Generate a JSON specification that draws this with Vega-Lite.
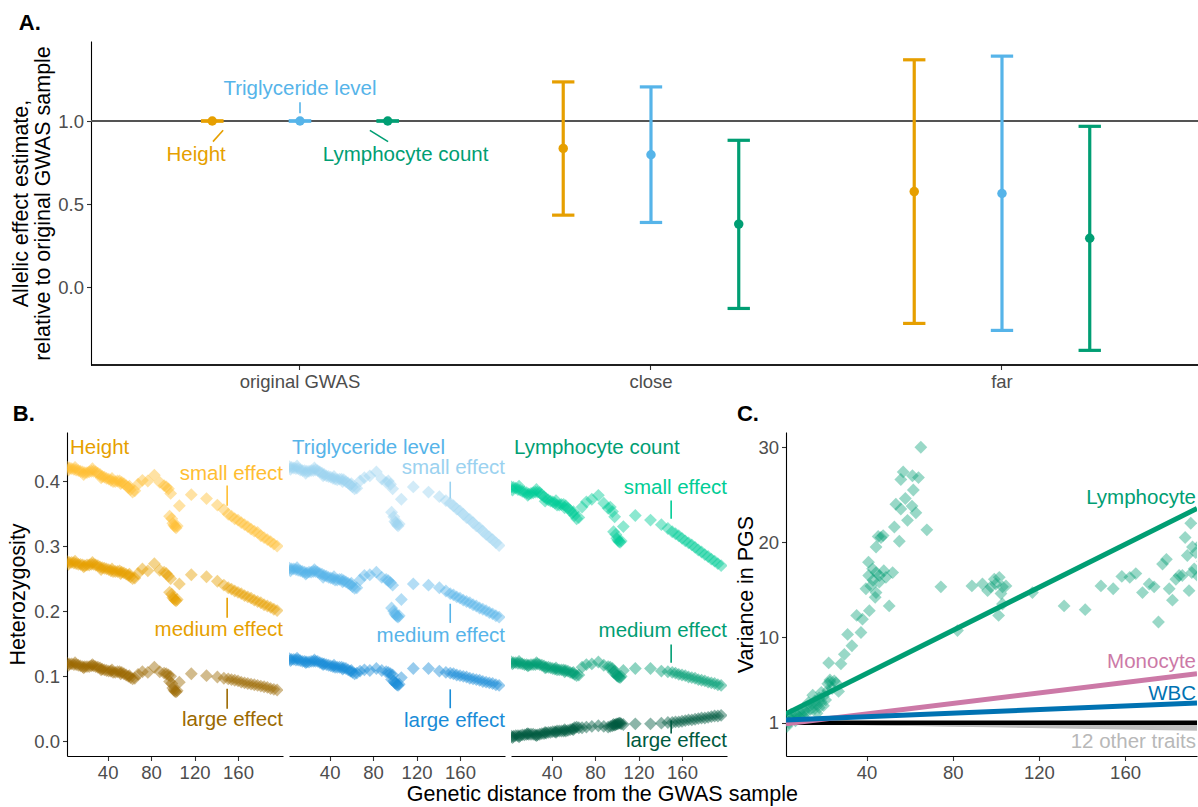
{
  "$schema": "https://vega.github.io/schema/vega-lite/v6.json",
  "padding": {"left": 7, "top": 12, "right": 0, "bottom": 0},
  "config": {
    "font": "Liberation Sans",
    "view": {"stroke": null},
    "axis": {
      "grid": false,
      "domainColor": "#000000",
      "domainWidth": 1.1,
      "tickColor": "#333333",
      "tickWidth": 1.1,
      "tickSize": 4.5,
      "labelPadding": 3,
      "labelFont": "Liberation Sans",
      "labelFontSize": 18.5,
      "labelColor": "#4D4D4D",
      "titleFont": "Liberation Sans",
      "titleFontSize": 21.5,
      "titleFontWeight": "normal",
      "titleColor": "#000000"
    },
    "title": {"font": "Liberation Sans", "fontSize": 22, "fontWeight": "bold", "anchor": "start", "frame": "bounds", "color": "#000000", "offset": 6, "baseline": "alphabetic"}
  },
  "datasets": {
    "effects": [
      {"sample": "original GWAS", "trait": "Height", "est": 1, "lo": 1, "hi": 1},
      {"sample": "original GWAS", "trait": "Triglyceride level", "est": 1, "lo": 1, "hi": 1},
      {"sample": "original GWAS", "trait": "Lymphocyte count", "est": 1, "lo": 1, "hi": 1},
      {"sample": "close", "trait": "Height", "est": 0.835, "lo": 0.434, "hi": 1.235},
      {"sample": "close", "trait": "Triglyceride level", "est": 0.797, "lo": 0.39, "hi": 1.205},
      {"sample": "close", "trait": "Lymphocyte count", "est": 0.38, "lo": -0.127, "hi": 0.884},
      {"sample": "far", "trait": "Height", "est": 0.576, "lo": -0.217, "hi": 1.368},
      {"sample": "far", "trait": "Triglyceride level", "est": 0.564, "lo": -0.259, "hi": 1.39},
      {"sample": "far", "trait": "Lymphocyte count", "est": 0.295, "lo": -0.379, "hi": 0.968}
    ],
    "notesA": [
      {"label": "Triglyceride level", "trait": "Triglyceride level", "lx": 1.0, "ly": 1.192, "x1": 1.0, "y1": 1.112, "x2": 1.0, "y2": 1.046},
      {"label": "Height", "trait": "Height", "lx": 0.704, "ly": 0.796, "x1": 0.752, "y1": 0.876, "x2": 0.781, "y2": 0.944},
      {"label": "Lymphocyte count", "trait": "Lymphocyte count", "lx": 1.301, "ly": 0.796, "x1": 1.199, "y1": 0.944, "x2": 1.251, "y2": 0.876}
    ],
    "traitsB": [
      {"trait": "Height"},
      {"trait": "Triglyceride level"},
      {"trait": "Lymphocyte count"}
    ],
    "notesB": [
      {"trait": "Height", "series": "Hs", "label": "small effect", "ly": 0.4104, "s1": 0.393, "s2": 0.362},
      {"trait": "Height", "series": "Hm", "label": "medium effect", "ly": 0.171, "s1": 0.2207, "s2": 0.19},
      {"trait": "Height", "series": "Hl", "label": "large effect", "ly": 0.0326, "s1": 0.081, "s2": 0.05},
      {"trait": "Triglyceride level", "series": "Ts", "label": "small effect", "ly": 0.4197, "s1": 0.399, "s2": 0.373},
      {"trait": "Triglyceride level", "series": "Tm", "label": "medium effect", "ly": 0.1616, "s1": 0.2115, "s2": 0.182},
      {"trait": "Triglyceride level", "series": "Tl", "label": "large effect", "ly": 0.031, "s1": 0.08, "s2": 0.051},
      {"trait": "Lymphocyte count", "series": "Ls", "label": "small effect", "ly": 0.3897, "s1": 0.37, "s2": 0.342},
      {"trait": "Lymphocyte count", "series": "Lm", "label": "medium effect", "ly": 0.169, "s1": 0.149, "s2": 0.121},
      {"trait": "Lymphocyte count", "series": "Ll", "label": "large effect", "ly": 0.0003, "s1": 0.032, "s2": 0.012}
    ],
    "pops": [
      {"d": 3, "Hs": 0.421, "Hm": 0.276, "Hl": 0.120, "Ts": 0.422, "Tm": 0.266, "Tl": 0.127, "Ls": 0.391, "Lm": 0.122, "Ll": 0.008},
      {"d": 4, "Hs": 0.417, "Hm": 0.272, "Hl": 0.117, "Ts": 0.418, "Tm": 0.262, "Tl": 0.124, "Ls": 0.386, "Lm": 0.119, "Ll": 0.006},
      {"d": 5, "Hs": 0.420, "Hm": 0.275, "Hl": 0.119, "Ts": 0.421, "Tm": 0.265, "Tl": 0.126, "Ls": 0.390, "Lm": 0.121, "Ll": 0.008},
      {"d": 7, "Hs": 0.419, "Hm": 0.275, "Hl": 0.119, "Ts": 0.420, "Tm": 0.265, "Tl": 0.126, "Ls": 0.389, "Lm": 0.121, "Ll": 0.009},
      {"d": 9, "Hs": 0.418, "Hm": 0.274, "Hl": 0.118, "Ts": 0.419, "Tm": 0.264, "Tl": 0.125, "Ls": 0.387, "Lm": 0.120, "Ll": 0.009},
      {"d": 10, "Hs": 0.421, "Hm": 0.277, "Hl": 0.121, "Ts": 0.423, "Tm": 0.267, "Tl": 0.128, "Ls": 0.392, "Lm": 0.123, "Ll": 0.007},
      {"d": 11, "Hs": 0.417, "Hm": 0.273, "Hl": 0.118, "Ts": 0.419, "Tm": 0.263, "Tl": 0.125, "Ls": 0.386, "Lm": 0.120, "Ll": 0.009},
      {"d": 13, "Hs": 0.416, "Hm": 0.272, "Hl": 0.117, "Ts": 0.417, "Tm": 0.262, "Tl": 0.124, "Ls": 0.384, "Lm": 0.119, "Ll": 0.010},
      {"d": 15, "Hs": 0.415, "Hm": 0.272, "Hl": 0.116, "Ts": 0.416, "Tm": 0.261, "Tl": 0.123, "Ls": 0.383, "Lm": 0.118, "Ll": 0.010},
      {"d": 17, "Hs": 0.414, "Hm": 0.271, "Hl": 0.115, "Ts": 0.416, "Tm": 0.260, "Tl": 0.123, "Ls": 0.382, "Lm": 0.118, "Ll": 0.011},
      {"d": 18, "Hs": 0.410, "Hm": 0.268, "Hl": 0.113, "Ts": 0.412, "Tm": 0.257, "Tl": 0.121, "Ls": 0.378, "Lm": 0.116, "Ll": 0.012},
      {"d": 19, "Hs": 0.413, "Hm": 0.270, "Hl": 0.115, "Ts": 0.415, "Tm": 0.259, "Tl": 0.122, "Ls": 0.380, "Lm": 0.117, "Ll": 0.011},
      {"d": 21, "Hs": 0.413, "Hm": 0.271, "Hl": 0.115, "Ts": 0.415, "Tm": 0.260, "Tl": 0.122, "Ls": 0.381, "Lm": 0.118, "Ll": 0.011},
      {"d": 23, "Hs": 0.414, "Hm": 0.271, "Hl": 0.115, "Ts": 0.416, "Tm": 0.260, "Tl": 0.123, "Ls": 0.382, "Lm": 0.118, "Ll": 0.011},
      {"d": 25, "Hs": 0.415, "Hm": 0.272, "Hl": 0.116, "Ts": 0.416, "Tm": 0.261, "Tl": 0.123, "Ls": 0.383, "Lm": 0.118, "Ll": 0.010},
      {"d": 26, "Hs": 0.419, "Hm": 0.275, "Hl": 0.118, "Ts": 0.420, "Tm": 0.264, "Tl": 0.125, "Ls": 0.387, "Lm": 0.121, "Ll": 0.009},
      {"d": 27, "Hs": 0.415, "Hm": 0.272, "Hl": 0.116, "Ts": 0.417, "Tm": 0.261, "Tl": 0.123, "Ls": 0.383, "Lm": 0.119, "Ll": 0.010},
      {"d": 29, "Hs": 0.414, "Hm": 0.271, "Hl": 0.115, "Ts": 0.416, "Tm": 0.260, "Tl": 0.123, "Ls": 0.382, "Lm": 0.118, "Ll": 0.011},
      {"d": 31, "Hs": 0.412, "Hm": 0.270, "Hl": 0.114, "Ts": 0.414, "Tm": 0.258, "Tl": 0.121, "Ls": 0.379, "Lm": 0.117, "Ll": 0.012},
      {"d": 33, "Hs": 0.410, "Hm": 0.268, "Hl": 0.113, "Ts": 0.412, "Tm": 0.257, "Tl": 0.120, "Ls": 0.376, "Lm": 0.116, "Ll": 0.012},
      {"d": 34, "Hs": 0.405, "Hm": 0.264, "Hl": 0.110, "Ts": 0.408, "Tm": 0.252, "Tl": 0.118, "Ls": 0.369, "Lm": 0.113, "Ll": 0.014},
      {"d": 35, "Hs": 0.407, "Hm": 0.267, "Hl": 0.111, "Ts": 0.410, "Tm": 0.255, "Tl": 0.119, "Ls": 0.373, "Lm": 0.114, "Ll": 0.013},
      {"d": 37, "Hs": 0.406, "Hm": 0.266, "Hl": 0.110, "Ts": 0.408, "Tm": 0.254, "Tl": 0.118, "Ls": 0.371, "Lm": 0.114, "Ll": 0.014},
      {"d": 39, "Hs": 0.404, "Hm": 0.265, "Hl": 0.109, "Ts": 0.407, "Tm": 0.252, "Tl": 0.117, "Ls": 0.369, "Lm": 0.113, "Ll": 0.014},
      {"d": 41, "Hs": 0.403, "Hm": 0.264, "Hl": 0.108, "Ts": 0.406, "Tm": 0.251, "Tl": 0.116, "Ls": 0.368, "Lm": 0.112, "Ll": 0.015},
      {"d": 43, "Hs": 0.401, "Hm": 0.262, "Hl": 0.108, "Ts": 0.404, "Tm": 0.250, "Tl": 0.115, "Ls": 0.366, "Lm": 0.111, "Ll": 0.015},
      {"d": 44, "Hs": 0.404, "Hm": 0.265, "Hl": 0.110, "Ts": 0.407, "Tm": 0.253, "Tl": 0.117, "Ls": 0.370, "Lm": 0.113, "Ll": 0.014},
      {"d": 45, "Hs": 0.399, "Hm": 0.261, "Hl": 0.106, "Ts": 0.403, "Tm": 0.248, "Tl": 0.114, "Ls": 0.363, "Lm": 0.110, "Ll": 0.016},
      {"d": 47, "Hs": 0.399, "Hm": 0.261, "Hl": 0.106, "Ts": 0.402, "Tm": 0.248, "Tl": 0.114, "Ls": 0.363, "Lm": 0.110, "Ll": 0.016},
      {"d": 49, "Hs": 0.400, "Hm": 0.261, "Hl": 0.107, "Ts": 0.403, "Tm": 0.249, "Tl": 0.114, "Ls": 0.364, "Lm": 0.110, "Ll": 0.016},
      {"d": 51, "Hs": 0.400, "Hm": 0.262, "Hl": 0.107, "Ts": 0.403, "Tm": 0.249, "Tl": 0.114, "Ls": 0.364, "Lm": 0.110, "Ll": 0.016},
      {"d": 52, "Hs": 0.396, "Hm": 0.258, "Hl": 0.104, "Ts": 0.399, "Tm": 0.245, "Tl": 0.111, "Ls": 0.359, "Lm": 0.107, "Ll": 0.018},
      {"d": 53, "Hs": 0.398, "Hm": 0.260, "Hl": 0.106, "Ts": 0.402, "Tm": 0.247, "Tl": 0.113, "Ls": 0.362, "Lm": 0.109, "Ll": 0.016},
      {"d": 55, "Hs": 0.396, "Hm": 0.259, "Hl": 0.104, "Ts": 0.399, "Tm": 0.245, "Tl": 0.112, "Ls": 0.358, "Lm": 0.108, "Ll": 0.017},
      {"d": 57, "Hs": 0.393, "Hm": 0.257, "Hl": 0.102, "Ts": 0.397, "Tm": 0.243, "Tl": 0.110, "Ls": 0.355, "Lm": 0.106, "Ll": 0.018},
      {"d": 59, "Hs": 0.390, "Hm": 0.255, "Hl": 0.100, "Ts": 0.394, "Tm": 0.241, "Tl": 0.108, "Ls": 0.351, "Lm": 0.105, "Ll": 0.019},
      {"d": 60, "Hs": 0.392, "Hm": 0.257, "Hl": 0.101, "Ts": 0.396, "Tm": 0.243, "Tl": 0.109, "Ls": 0.353, "Lm": 0.106, "Ll": 0.018},
      {"d": 61, "Hs": 0.387, "Hm": 0.253, "Hl": 0.098, "Ts": 0.391, "Tm": 0.238, "Tl": 0.106, "Ls": 0.347, "Lm": 0.103, "Ll": 0.021},
      {"d": 63, "Hs": 0.383, "Hm": 0.250, "Hl": 0.096, "Ts": 0.388, "Tm": 0.235, "Tl": 0.104, "Ls": 0.342, "Lm": 0.101, "Ll": 0.022},
      {"d": 65, "Hs": 0.385, "Hm": 0.251, "Hl": 0.097, "Ts": 0.389, "Tm": 0.236, "Tl": 0.105, "Ls": 0.344, "Lm": 0.102, "Ll": 0.021},
      {"d": 68, "Hs": 0.395, "Hm": 0.258, "Hl": 0.103, "Ts": 0.400, "Tm": 0.248, "Tl": 0.108, "Ls": 0.360, "Lm": 0.114, "Ll": 0.021},
      {"d": 72, "Hs": 0.401, "Hm": 0.265, "Hl": 0.107, "Ts": 0.405, "Tm": 0.255, "Tl": 0.110, "Ls": 0.368, "Lm": 0.118, "Ll": 0.022},
      {"d": 77, "Hs": 0.400, "Hm": 0.262, "Hl": 0.106, "Ts": 0.408, "Tm": 0.256, "Tl": 0.109, "Ls": 0.372, "Lm": 0.119, "Ll": 0.023},
      {"d": 83, "Hs": 0.409, "Hm": 0.273, "Hl": 0.114, "Ts": 0.414, "Tm": 0.260, "Tl": 0.112, "Ls": 0.378, "Lm": 0.122, "Ll": 0.024},
      {"d": 88, "Hs": 0.398, "Hm": 0.263, "Hl": 0.107, "Ts": 0.403, "Tm": 0.252, "Tl": 0.109, "Ls": 0.366, "Lm": 0.117, "Ll": 0.023},
      {"d": 92, "Hs": 0.393, "Hm": 0.260, "Hl": 0.105, "Ts": 0.398, "Tm": 0.249, "Tl": 0.107, "Ls": 0.358, "Lm": 0.115, "Ll": 0.022},
      {"d": 94, "Hs": 0.391, "Hm": 0.258, "Hl": 0.104, "Ts": 0.400, "Tm": 0.247, "Tl": 0.106, "Ls": 0.360, "Lm": 0.114, "Ll": 0.023},
      {"d": 96, "Hs": 0.388, "Hm": 0.254, "Hl": 0.102, "Ts": 0.395, "Tm": 0.244, "Tl": 0.104, "Ls": 0.353, "Lm": 0.112, "Ll": 0.024},
      {"d": 97, "Hs": 0.346, "Hm": 0.229, "Hl": 0.092, "Ts": 0.352, "Tm": 0.205, "Tl": 0.095, "Ls": 0.322, "Lm": 0.106, "Ll": 0.026},
      {"d": 98, "Hs": 0.381, "Hm": 0.250, "Hl": 0.100, "Ts": 0.388, "Tm": 0.240, "Tl": 0.102, "Ls": 0.345, "Lm": 0.108, "Ll": 0.025},
      {"d": 99, "Hs": 0.342, "Hm": 0.226, "Hl": 0.089, "Ts": 0.345, "Tm": 0.200, "Tl": 0.093, "Ls": 0.318, "Lm": 0.104, "Ll": 0.026},
      {"d": 100, "Hs": 0.335, "Hm": 0.221, "Hl": 0.082, "Ts": 0.338, "Tm": 0.196, "Tl": 0.090, "Ls": 0.312, "Lm": 0.101, "Ll": 0.027},
      {"d": 101, "Hs": 0.332, "Hm": 0.219, "Hl": 0.079, "Ts": 0.336, "Tm": 0.194, "Tl": 0.089, "Ls": 0.309, "Lm": 0.100, "Ll": 0.027},
      {"d": 102, "Hs": 0.330, "Hm": 0.217, "Hl": 0.077, "Ts": 0.333, "Tm": 0.192, "Tl": 0.087, "Ls": 0.307, "Lm": 0.099, "Ll": 0.028},
      {"d": 103, "Hs": 0.328, "Hm": 0.216, "Hl": 0.076, "Ts": 0.331, "Tm": 0.191, "Tl": 0.086, "Ls": 0.306, "Lm": 0.098, "Ll": 0.028},
      {"d": 104, "Hs": 0.331, "Hm": 0.218, "Hl": 0.078, "Ts": 0.334, "Tm": 0.193, "Tl": 0.088, "Ls": 0.308, "Lm": 0.100, "Ll": 0.027},
      {"d": 106, "Hs": 0.362, "Hm": 0.242, "Hl": 0.091, "Ts": 0.372, "Tm": 0.218, "Tl": 0.098, "Ls": 0.330, "Lm": 0.109, "Ll": 0.026},
      {"d": 117, "Hs": 0.379, "Hm": 0.256, "Hl": 0.104, "Ts": 0.391, "Tm": 0.242, "Tl": 0.112, "Ls": 0.347, "Lm": 0.112, "Ll": 0.027},
      {"d": 131, "Hs": 0.373, "Hm": 0.253, "Hl": 0.101, "Ts": 0.383, "Tm": 0.240, "Tl": 0.112, "Ls": 0.340, "Lm": 0.112, "Ll": 0.027},
      {"d": 141, "Hs": 0.363, "Hm": 0.246, "Hl": 0.099, "Ts": 0.376, "Tm": 0.236, "Tl": 0.108, "Ls": 0.333, "Lm": 0.108, "Ll": 0.028},
      {"d": 147, "Hs": 0.356, "Hm": 0.240, "Hl": 0.097, "Ts": 0.370, "Tm": 0.231, "Tl": 0.106, "Ls": 0.327, "Lm": 0.107, "Ll": 0.029},
      {"d": 151, "Hs": 0.349, "Hm": 0.236, "Hl": 0.096, "Ts": 0.366, "Tm": 0.227, "Tl": 0.105, "Ls": 0.322, "Lm": 0.106, "Ll": 0.029},
      {"d": 154, "Hs": 0.346, "Hm": 0.234, "Hl": 0.095, "Ts": 0.362, "Tm": 0.225, "Tl": 0.104, "Ls": 0.319, "Lm": 0.105, "Ll": 0.030},
      {"d": 157, "Hs": 0.342, "Hm": 0.231, "Hl": 0.094, "Ts": 0.357, "Tm": 0.222, "Tl": 0.102, "Ls": 0.316, "Lm": 0.103, "Ll": 0.030},
      {"d": 160, "Hs": 0.340, "Hm": 0.229, "Hl": 0.093, "Ts": 0.354, "Tm": 0.220, "Tl": 0.101, "Ls": 0.312, "Lm": 0.102, "Ll": 0.031},
      {"d": 163, "Hs": 0.336, "Hm": 0.227, "Hl": 0.091, "Ts": 0.349, "Tm": 0.217, "Tl": 0.100, "Ls": 0.308, "Lm": 0.101, "Ll": 0.032},
      {"d": 166, "Hs": 0.333, "Hm": 0.224, "Hl": 0.090, "Ts": 0.344, "Tm": 0.215, "Tl": 0.099, "Ls": 0.305, "Lm": 0.099, "Ll": 0.033},
      {"d": 169, "Hs": 0.330, "Hm": 0.222, "Hl": 0.089, "Ts": 0.341, "Tm": 0.213, "Tl": 0.097, "Ls": 0.302, "Lm": 0.098, "Ll": 0.033},
      {"d": 172, "Hs": 0.326, "Hm": 0.220, "Hl": 0.088, "Ts": 0.336, "Tm": 0.210, "Tl": 0.096, "Ls": 0.298, "Lm": 0.097, "Ll": 0.034},
      {"d": 175, "Hs": 0.323, "Hm": 0.217, "Hl": 0.087, "Ts": 0.331, "Tm": 0.208, "Tl": 0.095, "Ls": 0.294, "Lm": 0.095, "Ll": 0.035},
      {"d": 178, "Hs": 0.321, "Hm": 0.215, "Hl": 0.086, "Ts": 0.328, "Tm": 0.205, "Tl": 0.094, "Ls": 0.291, "Lm": 0.094, "Ll": 0.036},
      {"d": 181, "Hs": 0.316, "Hm": 0.213, "Hl": 0.085, "Ts": 0.323, "Tm": 0.203, "Tl": 0.092, "Ls": 0.287, "Lm": 0.093, "Ll": 0.036},
      {"d": 184, "Hs": 0.313, "Hm": 0.210, "Hl": 0.084, "Ts": 0.318, "Tm": 0.201, "Tl": 0.091, "Ls": 0.284, "Lm": 0.091, "Ll": 0.037},
      {"d": 187, "Hs": 0.310, "Hm": 0.208, "Hl": 0.083, "Ts": 0.314, "Tm": 0.198, "Tl": 0.090, "Ls": 0.280, "Lm": 0.090, "Ll": 0.038},
      {"d": 190, "Hs": 0.307, "Hm": 0.206, "Hl": 0.081, "Ts": 0.310, "Tm": 0.196, "Tl": 0.089, "Ls": 0.277, "Lm": 0.089, "Ll": 0.039},
      {"d": 193, "Hs": 0.303, "Hm": 0.203, "Hl": 0.080, "Ts": 0.305, "Tm": 0.193, "Tl": 0.087, "Ls": 0.273, "Lm": 0.087, "Ll": 0.039},
      {"d": 196, "Hs": 0.300, "Hm": 0.201, "Hl": 0.079, "Ts": 0.301, "Tm": 0.191, "Tl": 0.086, "Ls": 0.270, "Lm": 0.086, "Ll": 0.040}
    ],
    "pgs": [
      {"d": 3, "v": 0.6}, {"d": 3, "v": 1.2}, {"d": 4, "v": 1.0}, {"d": 4, "v": 1.6}, {"d": 5, "v": 1.3}, {"d": 5, "v": 1.9},
      {"d": 6, "v": 1.5}, {"d": 7, "v": 1.2}, {"d": 7, "v": 2.0}, {"d": 8, "v": 1.7}, {"d": 9, "v": 1.5}, {"d": 9, "v": 2.2},
      {"d": 10, "v": 1.9}, {"d": 11, "v": 2.3}, {"d": 11, "v": 1.6}, {"d": 12, "v": 2.1}, {"d": 13, "v": 2.6}, {"d": 13, "v": 3.1},
      {"d": 14, "v": 2.4}, {"d": 15, "v": 2.9}, {"d": 15, "v": 3.9}, {"d": 16, "v": 2.5}, {"d": 16, "v": 3.3}, {"d": 17, "v": 3.0},
      {"d": 17, "v": 2.0}, {"d": 18, "v": 3.6}, {"d": 18, "v": 2.6}, {"d": 19, "v": 3.2}, {"d": 19, "v": 4.2}, {"d": 20, "v": 2.8},
      {"d": 20, "v": 3.8}, {"d": 21, "v": 3.4}, {"d": 22, "v": 4.4}, {"d": 22, "v": 5.1}, {"d": 23, "v": 5.3}, {"d": 24, "v": 4.6},
      {"d": 25, "v": 5.4}, {"d": 22.4, "v": 7.3}, {"d": 23.0, "v": 5.5}, {"d": 25.8, "v": 5.2}, {"d": 27.0, "v": 4.3}, {"d": 28.1, "v": 7.2},
      {"d": 29.7, "v": 8.2}, {"d": 31.2, "v": 10.3}, {"d": 33.2, "v": 9.1}, {"d": 35.4, "v": 12.3}, {"d": 37.4, "v": 10.5}, {"d": 38.1, "v": 11.9},
      {"d": 39.7, "v": 15.1}, {"d": 40.9, "v": 17.9}, {"d": 41.3, "v": 12.8}, {"d": 42.0, "v": 15.4}, {"d": 42.8, "v": 17.2}, {"d": 44.0, "v": 14.2},
      {"d": 44.4, "v": 16.8}, {"d": 44.4, "v": 14.7}, {"d": 44.4, "v": 19.5}, {"d": 45.4, "v": 20.6}, {"d": 45.9, "v": 15.8}, {"d": 46.7, "v": 20.5},
      {"d": 47.7, "v": 20.7}, {"d": 49.0, "v": 16.3}, {"d": 50.5, "v": 13.3}, {"d": 52.1, "v": 16.8}, {"d": 52.9, "v": 21.6}, {"d": 53.6, "v": 24.0},
      {"d": 55.2, "v": 20.1}, {"d": 55.9, "v": 26.6}, {"d": 55.9, "v": 23.5}, {"d": 57.0, "v": 27.4}, {"d": 58.0, "v": 24.6}, {"d": 59.0, "v": 22.3},
      {"d": 61.1, "v": 23.8}, {"d": 61.3, "v": 27.0}, {"d": 61.7, "v": 25.5}, {"d": 62.9, "v": 23.1}, {"d": 64.1, "v": 26.8}, {"d": 65.2, "v": 30.0},
      {"d": 68.0, "v": 21.3}, {"d": 43.0, "v": 16.0}, {"d": 46.0, "v": 16.5}, {"d": 48.0, "v": 17.0}, {"d": 41.0, "v": 16.5},
      {"d": 74.5, "v": 15.3}, {"d": 82.2, "v": 10.7}, {"d": 88.9, "v": 15.4}, {"d": 93.8, "v": 15.6}, {"d": 96.2, "v": 14.9}, {"d": 97.7, "v": 15.3},
      {"d": 99.3, "v": 16.1}, {"d": 100.0, "v": 15.6}, {"d": 101.6, "v": 16.3}, {"d": 102.4, "v": 14.6}, {"d": 103.1, "v": 15.3}, {"d": 103.1, "v": 13.5},
      {"d": 101.3, "v": 12.3}, {"d": 104.7, "v": 15.4}, {"d": 117.0, "v": 14.7}, {"d": 131.7, "v": 13.3}, {"d": 141.5, "v": 12.9}, {"d": 148.8, "v": 15.4},
      {"d": 154.5, "v": 15.1}, {"d": 158.5, "v": 16.4}, {"d": 162.2, "v": 16.3}, {"d": 165.0, "v": 16.7}, {"d": 168.1, "v": 14.7}, {"d": 171.2, "v": 15.6},
      {"d": 173.5, "v": 15.3}, {"d": 175.5, "v": 11.6}, {"d": 177.4, "v": 17.7}, {"d": 179.2, "v": 18.2}, {"d": 180.5, "v": 15.1}, {"d": 182.0, "v": 13.9},
      {"d": 183.6, "v": 16.1}, {"d": 185.1, "v": 16.5}, {"d": 186.6, "v": 16.5}, {"d": 187.9, "v": 20.5}, {"d": 188.9, "v": 18.6}, {"d": 189.7, "v": 14.9},
      {"d": 190.5, "v": 22.0}, {"d": 191.3, "v": 19.5}, {"d": 192.1, "v": 17.2}, {"d": 192.8, "v": 18.9}, {"d": 191.0, "v": 16.8}, {"d": 194.0, "v": 16.4},
      {"d": 195.0, "v": 19.8}, {"d": 196.0, "v": 18.0}
    ],
    "fits": [
      {"kind": "other", "trait": "other 1", "d": 2.6, "v": 1.0}, {"kind": "other", "trait": "other 1", "d": 193.4, "v": 0.95},
      {"kind": "other", "trait": "other 2", "d": 2.6, "v": 1.0}, {"kind": "other", "trait": "other 2", "d": 193.4, "v": 0.9},
      {"kind": "other", "trait": "other 3", "d": 2.6, "v": 1.0}, {"kind": "other", "trait": "other 3", "d": 193.4, "v": 0.85},
      {"kind": "other", "trait": "other 4", "d": 2.6, "v": 1.0}, {"kind": "other", "trait": "other 4", "d": 193.4, "v": 0.8},
      {"kind": "other", "trait": "other 5", "d": 2.6, "v": 1.0}, {"kind": "other", "trait": "other 5", "d": 193.4, "v": 0.75},
      {"kind": "other", "trait": "other 6", "d": 2.6, "v": 1.0}, {"kind": "other", "trait": "other 6", "d": 193.4, "v": 0.7},
      {"kind": "other", "trait": "other 7", "d": 2.6, "v": 1.0}, {"kind": "other", "trait": "other 7", "d": 193.4, "v": 0.65},
      {"kind": "other", "trait": "other 8", "d": 2.6, "v": 1.0}, {"kind": "other", "trait": "other 8", "d": 193.4, "v": 0.6},
      {"kind": "other", "trait": "other 9", "d": 2.6, "v": 1.0}, {"kind": "other", "trait": "other 9", "d": 193.4, "v": 0.55},
      {"kind": "other", "trait": "other 10", "d": 2.6, "v": 1.0}, {"kind": "other", "trait": "other 10", "d": 193.4, "v": 0.5},
      {"kind": "other", "trait": "other 11", "d": 2.6, "v": 1.0}, {"kind": "other", "trait": "other 11", "d": 193.4, "v": 0.4},
      {"kind": "other", "trait": "other 12", "d": 2.6, "v": 1.0}, {"kind": "other", "trait": "other 12", "d": 193.4, "v": 0.3},
      {"kind": "reference", "trait": "reference", "d": 2.6, "v": 1.0}, {"kind": "reference", "trait": "reference", "d": 193.4, "v": 1.0},
      {"kind": "highlight", "trait": "Lymphocyte", "d": 2.6, "v": 1.94}, {"kind": "highlight", "trait": "Lymphocyte", "d": 193.4, "v": 23.55},
      {"kind": "highlight", "trait": "Monocyte", "d": 2.6, "v": 0.9}, {"kind": "highlight", "trait": "Monocyte", "d": 193.4, "v": 6.15},
      {"kind": "highlight", "trait": "WBC", "d": 2.6, "v": 1.3}, {"kind": "highlight", "trait": "WBC", "d": 193.4, "v": 3.07}
    ],
    "fitNotes": [
      {"label": "Lymphocyte", "trait": "Lymphocyte", "v": 24.7},
      {"label": "Monocyte", "trait": "Monocyte", "v": 7.35},
      {"label": "WBC", "trait": "WBC", "v": 4.05},
      {"label": "12 other traits", "trait": "other", "v": -1.03}
    ]
  },
  "resolve": {"scale": {"color": "independent"}},
  "spacing": 12,
  "vconcat": [
    {
      "hconcat": [
        {
          "width": 1131,
          "height": 324,
          "title": {"text": "A.", "dx": 8},
          "resolve": {"scale": {"x": "independent"}, "axis": {"x": "independent"}},
          "layer": [
            {
              "data": {"name": "effects"},
              "layer": [
                {
                  "mark": {"type": "rule", "color": "#555555", "strokeWidth": 1.2},
                  "encoding": {
                    "x": {"datum": 0.4046, "type": "quantitative", "scale": {"domain": [0.3362, 3.5584], "nice": false, "zero": false}, "axis": null},
                    "x2": {"datum": 3.5584},
                    "y": {"datum": 1, "type": "quantitative", "scale": {"domain": [-0.467, 1.481], "nice": false, "zero": false}, "axis": {"title": ["Allelic effect estimate,", "relative to original GWAS sample"], "values": [0, 0.5, 1], "format": ".1f", "titlePadding": 3, "titleLineHeight": 22, "offset": -24}}
                  }
                }
              ]
            },
            {
              "data": {"name": "effects"},
              "layer": [
                {
                  "mark": {"type": "rule", "strokeWidth": 3.2},
                  "encoding": {
                    "x": {"field": "sample", "type": "nominal", "scale": {"type": "band", "domain": ["original GWAS", "close", "far"], "paddingInner": 0, "paddingOuter": 0.1111, "align": 0.737}, "axis": {"title": null, "labelAngle": 0, "domain": false}},
                    "xOffset": {"field": "trait", "type": "nominal", "scale": {"type": "point", "domain": ["Height", "Triglyceride level", "Lymphocyte count"], "padding": 2.079}},
                    "y": {"field": "lo", "type": "quantitative", "scale": {"domain": [-0.467, 1.481], "nice": false, "zero": false}, "axis": {"title": ["Allelic effect estimate,", "relative to original GWAS sample"], "values": [0, 0.5, 1], "format": ".1f", "titlePadding": 3, "titleLineHeight": 22, "offset": -24}},
                    "y2": {"field": "hi"},
                    "color": {"field": "trait", "type": "nominal", "scale": {"domain": ["Height", "Triglyceride level", "Lymphocyte count"], "range": ["#E69F00", "#56B4E9", "#009E73"]}, "legend": null}
                  }
                },
                {
                  "mark": {"type": "point", "shape": "stroke", "size": 500, "strokeWidth": 3.2, "filled": false, "opacity": 1},
                  "encoding": {
                    "x": {"field": "sample", "type": "nominal", "scale": {"type": "band", "domain": ["original GWAS", "close", "far"], "paddingInner": 0, "paddingOuter": 0.1111, "align": 0.737}, "axis": {"title": null, "labelAngle": 0, "domain": false}},
                    "xOffset": {"field": "trait", "type": "nominal", "scale": {"type": "point", "domain": ["Height", "Triglyceride level", "Lymphocyte count"], "padding": 2.079}},
                    "y": {"field": "hi", "type": "quantitative", "scale": {"domain": [-0.467, 1.481], "nice": false, "zero": false}, "axis": {"title": ["Allelic effect estimate,", "relative to original GWAS sample"], "values": [0, 0.5, 1], "format": ".1f", "titlePadding": 3, "titleLineHeight": 22, "offset": -24}},
                    "color": {"field": "trait", "type": "nominal", "scale": {"domain": ["Height", "Triglyceride level", "Lymphocyte count"], "range": ["#E69F00", "#56B4E9", "#009E73"]}, "legend": null}
                  }
                },
                {
                  "mark": {"type": "point", "shape": "stroke", "size": 500, "strokeWidth": 3.2, "filled": false, "opacity": 1},
                  "encoding": {
                    "x": {"field": "sample", "type": "nominal", "scale": {"type": "band", "domain": ["original GWAS", "close", "far"], "paddingInner": 0, "paddingOuter": 0.1111, "align": 0.737}, "axis": {"title": null, "labelAngle": 0, "domain": false}},
                    "xOffset": {"field": "trait", "type": "nominal", "scale": {"type": "point", "domain": ["Height", "Triglyceride level", "Lymphocyte count"], "padding": 2.079}},
                    "y": {"field": "lo", "type": "quantitative", "scale": {"domain": [-0.467, 1.481], "nice": false, "zero": false}, "axis": {"title": ["Allelic effect estimate,", "relative to original GWAS sample"], "values": [0, 0.5, 1], "format": ".1f", "titlePadding": 3, "titleLineHeight": 22, "offset": -24}},
                    "color": {"field": "trait", "type": "nominal", "scale": {"domain": ["Height", "Triglyceride level", "Lymphocyte count"], "range": ["#E69F00", "#56B4E9", "#009E73"]}, "legend": null}
                  }
                },
                {
                  "mark": {"type": "point", "shape": "circle", "filled": true, "size": 90, "opacity": 1},
                  "encoding": {
                    "x": {"field": "sample", "type": "nominal", "scale": {"type": "band", "domain": ["original GWAS", "close", "far"], "paddingInner": 0, "paddingOuter": 0.1111, "align": 0.737}, "axis": {"title": null, "labelAngle": 0, "domain": false}},
                    "xOffset": {"field": "trait", "type": "nominal", "scale": {"type": "point", "domain": ["Height", "Triglyceride level", "Lymphocyte count"], "padding": 2.079}},
                    "y": {"field": "est", "type": "quantitative", "scale": {"domain": [-0.467, 1.481], "nice": false, "zero": false}, "axis": {"title": ["Allelic effect estimate,", "relative to original GWAS sample"], "values": [0, 0.5, 1], "format": ".1f", "titlePadding": 3, "titleLineHeight": 22, "offset": -24}},
                    "color": {"field": "trait", "type": "nominal", "scale": {"domain": ["Height", "Triglyceride level", "Lymphocyte count"], "range": ["#E69F00", "#56B4E9", "#009E73"]}, "legend": null}
                  }
                }
              ]
            },
            {
              "data": {"name": "notesA"},
              "layer": [
                {
                  "mark": {"type": "rule", "strokeWidth": 1.6},
                  "encoding": {
                    "x": {"field": "x1", "type": "quantitative", "scale": {"domain": [0.3362, 3.5584], "nice": false, "zero": false}, "axis": null},
                    "x2": {"field": "x2"},
                    "y": {"field": "y1", "type": "quantitative", "scale": {"domain": [-0.467, 1.481], "nice": false, "zero": false}},
                    "y2": {"field": "y2"},
                    "color": {"field": "trait", "type": "nominal", "scale": {"domain": ["Height", "Triglyceride level", "Lymphocyte count"], "range": ["#E69F00", "#56B4E9", "#009E73"]}, "legend": null}
                  }
                },
                {
                  "mark": {"type": "text", "fontSize": 20.5, "align": "center", "baseline": "middle"},
                  "encoding": {
                    "x": {"field": "lx", "type": "quantitative", "scale": {"domain": [0.3362, 3.5584], "nice": false, "zero": false}, "axis": null},
                    "y": {"field": "ly", "type": "quantitative", "scale": {"domain": [-0.467, 1.481], "nice": false, "zero": false}},
                    "text": {"field": "label"},
                    "color": {"field": "trait", "type": "nominal", "scale": {"domain": ["Height", "Triglyceride level", "Lymphocyte count"], "range": ["#E69F00", "#56B4E9", "#009E73"]}, "legend": null}
                  }
                },
                {
                  "mark": {"type": "rule", "color": "#000000", "strokeWidth": 1.1},
                  "encoding": {
                    "x": {"datum": 0.4046, "type": "quantitative", "scale": {"domain": [0.3362, 3.5584], "nice": false, "zero": false}, "axis": null},
                    "x2": {"datum": 3.5584},
                    "y": {"datum": -0.467, "type": "quantitative", "scale": {"domain": [-0.467, 1.481], "nice": false, "zero": false}}
                  }
                }
              ]
            }
          ]
        }
      ]
    },
    {
      "resolve": {"scale": {"color": "independent"}},
      "spacing": 8,
      "title": {"text": "Genetic distance from the GWAS sample", "orient": "bottom", "anchor": "middle", "frame": "bounds", "fontSize": 21.5, "fontWeight": "normal", "baseline": "top", "offset": 2},
      "hconcat": [
        {
          "spacing": 6,
          "hconcat": [
            {
              "width": 216,
              "height": 324,
              "title": {"text": "B.", "dx": 5},
              "layer": [
                {
                  "data": {"name": "pops"},
                  "transform": [{"fold": ["Hs", "Hm", "Hl"], "as": ["series", "het"]}],
                  "mark": {"type": "point", "shape": "diamond", "filled": true, "size": 165, "opacity": 0.45, "strokeWidth": 0, "clip": true},
                  "encoding": {
                    "x": {"field": "d", "type": "quantitative", "scale": {"domain": [2.6, 201.4], "nice": false, "zero": false}, "axis": {"title": null, "values": [40, 80, 120, 160]}},
                    "y": {"field": "het", "type": "quantitative", "scale": {"domain": [-0.0224, 0.4753], "nice": false, "zero": false}, "axis": {"title": "Heterozygosity", "values": [0, 0.1, 0.2, 0.3, 0.4], "format": ".1f", "titlePadding": 4}},
                    "color": {"field": "series", "type": "nominal", "scale": {"domain": ["Hs", "Hm", "Hl", "Ts", "Tm", "Tl", "Ls", "Lm", "Ll"], "range": ["#FFBE32", "#E69F00", "#9B6900", "#9BD2F0", "#56B4E9", "#198CD7", "#00CD96", "#009E73", "#005A40"]}, "legend": null}
                  }
                },
                {
                  "data": {"name": "notesB"},
                  "transform": [{"filter": "datum.trait === 'Height'"}],
                  "layer": [
                    {
                      "mark": {"type": "rule", "strokeWidth": 1.6},
                      "encoding": {
                        "x": {"datum": 150, "type": "quantitative", "scale": {"domain": [2.6, 201.4], "nice": false, "zero": false}, "axis": {"title": null, "values": [40, 80, 120, 160]}},
                        "y": {"field": "s1", "type": "quantitative", "scale": {"domain": [-0.0224, 0.4753], "nice": false, "zero": false}, "axis": {"title": "Heterozygosity", "values": [0, 0.1, 0.2, 0.3, 0.4], "format": ".1f", "titlePadding": 4}},
                        "y2": {"field": "s2"},
                        "color": {"field": "series", "type": "nominal", "scale": {"domain": ["Hs", "Hm", "Hl", "Ts", "Tm", "Tl", "Ls", "Lm", "Ll"], "range": ["#FFBE32", "#E69F00", "#9B6900", "#9BD2F0", "#56B4E9", "#198CD7", "#00CD96", "#009E73", "#005A40"]}, "legend": null}
                      }
                    },
                    {
                      "mark": {"type": "text", "fontSize": 20.5, "align": "right", "baseline": "middle"},
                      "encoding": {
                        "x": {"datum": 201.4, "type": "quantitative", "scale": {"domain": [2.6, 201.4], "nice": false, "zero": false}, "axis": {"title": null, "values": [40, 80, 120, 160]}},
                        "y": {"field": "ly", "type": "quantitative", "scale": {"domain": [-0.0224, 0.4753], "nice": false, "zero": false}, "axis": {"title": "Heterozygosity", "values": [0, 0.1, 0.2, 0.3, 0.4], "format": ".1f", "titlePadding": 4}},
                        "text": {"field": "label"},
                        "color": {"field": "series", "type": "nominal", "scale": {"domain": ["Hs", "Hm", "Hl", "Ts", "Tm", "Tl", "Ls", "Lm", "Ll"], "range": ["#FFBE32", "#E69F00", "#9B6900", "#9BD2F0", "#56B4E9", "#198CD7", "#00CD96", "#009E73", "#005A40"]}, "legend": null}
                      }
                    }
                  ]
                },
                {
                  "data": {"name": "traitsB"},
                  "transform": [{"filter": "datum.trait === 'Height'"}],
                  "mark": {"type": "text", "fontSize": 20.5, "align": "left", "baseline": "middle", "dx": 3, "color": "#E69F00"},
                  "encoding": {
                    "x": {"datum": 2.6, "type": "quantitative", "scale": {"domain": [2.6, 201.4], "nice": false, "zero": false}, "axis": {"title": null, "values": [40, 80, 120, 160]}},
                    "y": {"datum": 0.45, "type": "quantitative", "scale": {"domain": [-0.0224, 0.4753], "nice": false, "zero": false}, "axis": {"title": "Heterozygosity", "values": [0, 0.1, 0.2, 0.3, 0.4], "format": ".1f", "titlePadding": 4}},
                    "text": {"field": "trait"}
                  }
                }
              ]
            },
            {
              "width": 216,
              "height": 324,
              "layer": [
                {
                  "data": {"name": "pops"},
                  "transform": [{"fold": ["Ts", "Tm", "Tl"], "as": ["series", "het"]}],
                  "mark": {"type": "point", "shape": "diamond", "filled": true, "size": 165, "opacity": 0.45, "strokeWidth": 0, "clip": true},
                  "encoding": {
                    "x": {"field": "d", "type": "quantitative", "scale": {"domain": [2.6, 201.4], "nice": false, "zero": false}, "axis": {"title": null, "values": [40, 80, 120, 160]}},
                    "y": {"field": "het", "type": "quantitative", "scale": {"domain": [-0.0224, 0.4753], "nice": false, "zero": false}, "axis": null},
                    "color": {"field": "series", "type": "nominal", "scale": {"domain": ["Hs", "Hm", "Hl", "Ts", "Tm", "Tl", "Ls", "Lm", "Ll"], "range": ["#FFBE32", "#E69F00", "#9B6900", "#9BD2F0", "#56B4E9", "#198CD7", "#00CD96", "#009E73", "#005A40"]}, "legend": null}
                  }
                },
                {
                  "data": {"name": "notesB"},
                  "transform": [{"filter": "datum.trait === 'Triglyceride level'"}],
                  "layer": [
                    {
                      "mark": {"type": "rule", "strokeWidth": 1.6},
                      "encoding": {
                        "x": {"datum": 151, "type": "quantitative", "scale": {"domain": [2.6, 201.4], "nice": false, "zero": false}, "axis": {"title": null, "values": [40, 80, 120, 160]}},
                        "y": {"field": "s1", "type": "quantitative", "scale": {"domain": [-0.0224, 0.4753], "nice": false, "zero": false}, "axis": null},
                        "y2": {"field": "s2"},
                        "color": {"field": "series", "type": "nominal", "scale": {"domain": ["Hs", "Hm", "Hl", "Ts", "Tm", "Tl", "Ls", "Lm", "Ll"], "range": ["#FFBE32", "#E69F00", "#9B6900", "#9BD2F0", "#56B4E9", "#198CD7", "#00CD96", "#009E73", "#005A40"]}, "legend": null}
                      }
                    },
                    {
                      "mark": {"type": "text", "fontSize": 20.5, "align": "right", "baseline": "middle"},
                      "encoding": {
                        "x": {"datum": 201.4, "type": "quantitative", "scale": {"domain": [2.6, 201.4], "nice": false, "zero": false}, "axis": {"title": null, "values": [40, 80, 120, 160]}},
                        "y": {"field": "ly", "type": "quantitative", "scale": {"domain": [-0.0224, 0.4753], "nice": false, "zero": false}, "axis": null},
                        "text": {"field": "label"},
                        "color": {"field": "series", "type": "nominal", "scale": {"domain": ["Hs", "Hm", "Hl", "Ts", "Tm", "Tl", "Ls", "Lm", "Ll"], "range": ["#FFBE32", "#E69F00", "#9B6900", "#9BD2F0", "#56B4E9", "#198CD7", "#00CD96", "#009E73", "#005A40"]}, "legend": null}
                      }
                    }
                  ]
                },
                {
                  "data": {"name": "traitsB"},
                  "transform": [{"filter": "datum.trait === 'Triglyceride level'"}],
                  "mark": {"type": "text", "fontSize": 20.5, "align": "left", "baseline": "middle", "dx": 3, "color": "#56B4E9"},
                  "encoding": {
                    "x": {"datum": 2.6, "type": "quantitative", "scale": {"domain": [2.6, 201.4], "nice": false, "zero": false}, "axis": {"title": null, "values": [40, 80, 120, 160]}},
                    "y": {"datum": 0.45, "type": "quantitative", "scale": {"domain": [-0.0224, 0.4753], "nice": false, "zero": false}, "axis": null},
                    "text": {"field": "trait"}
                  }
                }
              ]
            },
            {
              "width": 216,
              "height": 324,
              "layer": [
                {
                  "data": {"name": "pops"},
                  "transform": [{"fold": ["Ls", "Lm", "Ll"], "as": ["series", "het"]}],
                  "mark": {"type": "point", "shape": "diamond", "filled": true, "size": 165, "opacity": 0.45, "strokeWidth": 0, "clip": true},
                  "encoding": {
                    "x": {"field": "d", "type": "quantitative", "scale": {"domain": [2.6, 201.4], "nice": false, "zero": false}, "axis": {"title": null, "values": [40, 80, 120, 160]}},
                    "y": {"field": "het", "type": "quantitative", "scale": {"domain": [-0.0224, 0.4753], "nice": false, "zero": false}, "axis": null},
                    "color": {"field": "series", "type": "nominal", "scale": {"domain": ["Hs", "Hm", "Hl", "Ts", "Tm", "Tl", "Ls", "Lm", "Ll"], "range": ["#FFBE32", "#E69F00", "#9B6900", "#9BD2F0", "#56B4E9", "#198CD7", "#00CD96", "#009E73", "#005A40"]}, "legend": null}
                  }
                },
                {
                  "data": {"name": "notesB"},
                  "transform": [{"filter": "datum.trait === 'Lymphocyte count'"}],
                  "layer": [
                    {
                      "mark": {"type": "rule", "strokeWidth": 1.6},
                      "encoding": {
                        "x": {"datum": 150, "type": "quantitative", "scale": {"domain": [2.6, 201.4], "nice": false, "zero": false}, "axis": {"title": null, "values": [40, 80, 120, 160]}},
                        "y": {"field": "s1", "type": "quantitative", "scale": {"domain": [-0.0224, 0.4753], "nice": false, "zero": false}, "axis": null},
                        "y2": {"field": "s2"},
                        "color": {"field": "series", "type": "nominal", "scale": {"domain": ["Hs", "Hm", "Hl", "Ts", "Tm", "Tl", "Ls", "Lm", "Ll"], "range": ["#FFBE32", "#E69F00", "#9B6900", "#9BD2F0", "#56B4E9", "#198CD7", "#00CD96", "#009E73", "#005A40"]}, "legend": null}
                      }
                    },
                    {
                      "mark": {"type": "text", "fontSize": 20.5, "align": "right", "baseline": "middle"},
                      "encoding": {
                        "x": {"datum": 201.4, "type": "quantitative", "scale": {"domain": [2.6, 201.4], "nice": false, "zero": false}, "axis": {"title": null, "values": [40, 80, 120, 160]}},
                        "y": {"field": "ly", "type": "quantitative", "scale": {"domain": [-0.0224, 0.4753], "nice": false, "zero": false}, "axis": null},
                        "text": {"field": "label"},
                        "color": {"field": "series", "type": "nominal", "scale": {"domain": ["Hs", "Hm", "Hl", "Ts", "Tm", "Tl", "Ls", "Lm", "Ll"], "range": ["#FFBE32", "#E69F00", "#9B6900", "#9BD2F0", "#56B4E9", "#198CD7", "#00CD96", "#009E73", "#005A40"]}, "legend": null}
                      }
                    }
                  ]
                },
                {
                  "data": {"name": "traitsB"},
                  "transform": [{"filter": "datum.trait === 'Lymphocyte count'"}],
                  "mark": {"type": "text", "fontSize": 20.5, "align": "left", "baseline": "middle", "dx": 3, "color": "#009E73"},
                  "encoding": {
                    "x": {"datum": 2.6, "type": "quantitative", "scale": {"domain": [2.6, 201.4], "nice": false, "zero": false}, "axis": {"title": null, "values": [40, 80, 120, 160]}},
                    "y": {"datum": 0.45, "type": "quantitative", "scale": {"domain": [-0.0224, 0.4753], "nice": false, "zero": false}, "axis": null},
                    "text": {"field": "trait"}
                  }
                }
              ]
            }
          ]
        },
        {
          "hconcat": [
            {
              "width": 411,
              "height": 324,
              "title": {"text": "C.", "dx": 1},
              "layer": [
                {
                  "data": {"name": "pgs"},
                  "mark": {"type": "point", "shape": "diamond", "filled": true, "size": 165, "opacity": 0.4, "color": "#009E73", "strokeWidth": 0, "clip": true},
                  "encoding": {
                    "x": {"field": "d", "type": "quantitative", "scale": {"domain": [2.6, 193.4], "nice": false, "zero": false}, "axis": {"title": null, "values": [40, 80, 120, 160]}},
                    "y": {"field": "v", "type": "quantitative", "scale": {"domain": [-2.5, 31.6], "nice": false, "zero": false}, "axis": {"title": "Variance in PGS", "values": [1, 10, 20, 30], "titlePadding": 0}}
                  }
                },
                {
                  "data": {"name": "fits"},
                  "transform": [{"filter": "datum.kind === 'other'"}],
                  "mark": {"type": "line", "color": "#BEBEBE", "strokeWidth": 2.5, "clip": true},
                  "encoding": {
                    "x": {"field": "d", "type": "quantitative", "scale": {"domain": [2.6, 193.4], "nice": false, "zero": false}, "axis": {"title": null, "values": [40, 80, 120, 160]}},
                    "y": {"field": "v", "type": "quantitative", "scale": {"domain": [-2.5, 31.6], "nice": false, "zero": false}, "axis": {"title": "Variance in PGS", "values": [1, 10, 20, 30], "titlePadding": 0}},
                    "detail": {"field": "trait", "type": "nominal"}
                  }
                },
                {
                  "data": {"name": "fits"},
                  "transform": [{"filter": "datum.kind === 'reference'"}],
                  "mark": {"type": "line", "color": "#000000", "strokeWidth": 4.5, "clip": true},
                  "encoding": {
                    "x": {"field": "d", "type": "quantitative", "scale": {"domain": [2.6, 193.4], "nice": false, "zero": false}, "axis": {"title": null, "values": [40, 80, 120, 160]}},
                    "y": {"field": "v", "type": "quantitative", "scale": {"domain": [-2.5, 31.6], "nice": false, "zero": false}, "axis": {"title": "Variance in PGS", "values": [1, 10, 20, 30], "titlePadding": 0}}
                  }
                },
                {
                  "data": {"name": "fits"},
                  "transform": [{"filter": "datum.kind === 'highlight'"}],
                  "mark": {"type": "line", "strokeWidth": 5, "clip": true},
                  "encoding": {
                    "x": {"field": "d", "type": "quantitative", "scale": {"domain": [2.6, 193.4], "nice": false, "zero": false}, "axis": {"title": null, "values": [40, 80, 120, 160]}},
                    "y": {"field": "v", "type": "quantitative", "scale": {"domain": [-2.5, 31.6], "nice": false, "zero": false}, "axis": {"title": "Variance in PGS", "values": [1, 10, 20, 30], "titlePadding": 0}},
                    "color": {"field": "trait", "type": "nominal", "scale": {"domain": ["Lymphocyte", "Monocyte", "WBC", "other"], "range": ["#009E73", "#CC79A7", "#0072B2", "#B8B8B8"]}, "legend": null}
                  }
                },
                {
                  "data": {"name": "fitNotes"},
                  "mark": {"type": "text", "fontSize": 20.5, "align": "right", "baseline": "middle", "dx": -1},
                  "encoding": {
                    "x": {"datum": 193.4, "type": "quantitative", "scale": {"domain": [2.6, 193.4], "nice": false, "zero": false}, "axis": {"title": null, "values": [40, 80, 120, 160]}},
                    "y": {"field": "v", "type": "quantitative", "scale": {"domain": [-2.5, 31.6], "nice": false, "zero": false}, "axis": {"title": "Variance in PGS", "values": [1, 10, 20, 30], "titlePadding": 0}},
                    "text": {"field": "label"},
                    "color": {"field": "trait", "type": "nominal", "scale": {"domain": ["Lymphocyte", "Monocyte", "WBC", "other"], "range": ["#009E73", "#CC79A7", "#0072B2", "#B8B8B8"]}, "legend": null}
                  }
                }
              ]
            }
          ]
        }
      ]
    }
  ]
}
